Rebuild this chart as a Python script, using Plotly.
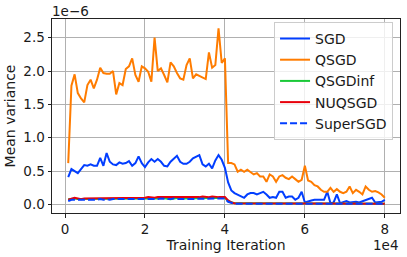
import plotly.graph_objects as go

iterations = [800 * k for k in range(1, 101)]

sgd = [0.41, 0.53, 0.50, 0.47, 0.53, 0.59, 0.58, 0.60, 0.58, 0.58,
       0.70, 0.58, 0.77, 0.64, 0.60, 0.59, 0.63, 0.61, 0.62, 0.65,
       0.58, 0.62, 0.72, 0.62, 0.56, 0.63, 0.68, 0.64, 0.68, 0.64,
       0.58, 0.57, 0.64, 0.69, 0.73, 0.64, 0.61, 0.61, 0.64, 0.69,
       0.72, 0.74, 0.60, 0.57, 0.61, 0.54, 0.66, 0.74, 0.67, 0.55,
       0.33, 0.21, 0.17, 0.15, 0.13, 0.10, 0.15, 0.17, 0.17, 0.15,
       0.17, 0.19, 0.15, 0.10, 0.11, 0.10, 0.19, 0.19, 0.10, 0.12,
       0.12, 0.07, 0.10, 0.19, 0.03, 0.05, 0.06, 0.07, 0.07, 0.08,
       0.07, 0.19, 0.02, 0.03, 0.15, 0.02, 0.03, 0.05, 0.03, 0.04,
       0.04, 0.03, 0.05, 0.06, 0.08, 0.10, 0.03, 0.03, 0.04, 0.07]

qsgd = [0.62, 1.78, 1.95, 1.67, 1.59, 1.53, 1.79, 1.87, 1.74, 1.87,
        2.05, 1.97, 1.96, 1.96, 2.00, 1.65, 1.82, 1.79, 2.03, 2.07,
        2.19, 1.94, 1.84, 2.07, 2.04, 1.99, 1.84, 2.50, 2.00, 2.04,
        1.94, 1.83, 2.13, 2.07, 1.97, 1.89, 1.87, 2.09, 2.19, 1.89,
        1.95, 1.93, 1.90, 1.88, 2.28, 2.05, 2.09, 2.64, 2.12, 2.19,
        0.62, 0.62, 0.60, 0.49, 0.52, 0.49, 0.52, 0.49, 0.45, 0.47,
        0.42, 0.42, 0.34, 0.45, 0.42, 0.34, 0.42, 0.44, 0.40, 0.38,
        0.42, 0.38, 0.34, 0.37, 0.58, 0.36, 0.34, 0.29, 0.27, 0.22,
        0.19, 0.19, 0.25, 0.19, 0.23, 0.19, 0.17, 0.19, 0.27, 0.17,
        0.22, 0.19, 0.15, 0.27, 0.22, 0.19, 0.20, 0.18, 0.15, 0.10]

qsgdinf = [0.08, 0.09, 0.09, 0.08, 0.08, 0.08, 0.09, 0.08, 0.09, 0.08,
           0.09, 0.09, 0.08, 0.09, 0.09, 0.08, 0.09, 0.09, 0.08, 0.09,
           0.09, 0.09, 0.08, 0.09, 0.09, 0.09, 0.09, 0.08, 0.09, 0.10,
           0.09, 0.09, 0.08, 0.09, 0.10, 0.10, 0.09, 0.09, 0.10, 0.10,
           0.10, 0.09, 0.10, 0.10, 0.10, 0.10, 0.10, 0.10, 0.10, 0.10,
           0.05, 0.03, 0.02, 0.02, 0.02, 0.02, 0.02, 0.02, 0.02, 0.02,
           0.02, 0.02, 0.02, 0.02, 0.02, 0.02, 0.02, 0.02, 0.02, 0.02,
           0.02, 0.02, 0.02, 0.02, 0.02, 0.01, 0.01, 0.01, 0.01, 0.01,
           0.01, 0.01, 0.01, 0.01, 0.01, 0.01, 0.01, 0.01, 0.01, 0.01,
           0.01, 0.01, 0.01, 0.01, 0.01, 0.01, 0.01, 0.01, 0.01, 0.01]

nuqsgd = [0.07, 0.09, 0.10, 0.09, 0.08, 0.09, 0.09, 0.09, 0.10, 0.09,
          0.09, 0.09, 0.10, 0.09, 0.10, 0.09, 0.09, 0.10, 0.09, 0.09,
          0.10, 0.09, 0.10, 0.10, 0.10, 0.11, 0.10, 0.10, 0.11, 0.11,
          0.10, 0.10, 0.11, 0.10, 0.10, 0.11, 0.11, 0.11, 0.10, 0.10,
          0.11, 0.11, 0.12, 0.11, 0.11, 0.12, 0.11, 0.11, 0.11, 0.11,
          0.06, 0.03, 0.02, 0.02, 0.02, 0.02, 0.02, 0.02, 0.02, 0.02,
          0.02, 0.02, 0.02, 0.02, 0.02, 0.02, 0.02, 0.02, 0.02, 0.02,
          0.02, 0.02, 0.02, 0.02, 0.02, 0.02, 0.01, 0.01, 0.01, 0.01,
          0.01, 0.01, 0.01, 0.01, 0.01, 0.01, 0.01, 0.01, 0.01, 0.01,
          0.01, 0.01, 0.01, 0.01, 0.01, 0.01, 0.01, 0.01, 0.01, 0.01]

supersgd = [0.05, 0.07, 0.07, 0.07, 0.06, 0.07, 0.07, 0.07, 0.07, 0.07,
            0.08, 0.07, 0.08, 0.07, 0.08, 0.08, 0.07, 0.08, 0.08, 0.07,
            0.08, 0.08, 0.08, 0.08, 0.07, 0.08, 0.08, 0.08, 0.08, 0.09,
            0.08, 0.08, 0.08, 0.09, 0.08, 0.08, 0.09, 0.08, 0.08, 0.09,
            0.09, 0.08, 0.09, 0.09, 0.09, 0.09, 0.09, 0.09, 0.09, 0.09,
            0.04, 0.02, 0.01, 0.01, 0.01, 0.01, 0.01, 0.01, 0.01, 0.01,
            0.01, 0.01, 0.01, 0.01, 0.01, 0.01, 0.01, 0.01, 0.01, 0.01,
            0.01, 0.01, 0.01, 0.01, 0.01, 0.01, 0.01, 0.01, 0.01, 0.01,
            0.01, 0.01, 0.01, 0.01, 0.01, 0.01, 0.01, 0.01, 0.01, 0.01,
            0.01, 0.01, 0.01, 0.01, 0.01, 0.01, 0.01, 0.01, 0.01, 0.01]

series_names = ["SGD", "QSGD", "QSGDinf", "NUQSGD", "SuperSGD"]
series_values = [sgd, qsgd, qsgdinf, nuqsgd, supersgd]
series_colors = ["#023eff", "#ff7c00", "#1ac938", "#e8000b", "#023eff"]
series_dash = ["solid", "solid", "solid", "solid", "7px,3px"]

x_tickvals = [0, 20000, 40000, 60000, 80000]
x_ticktext = ["0", "2", "4", "6", "8"]
y_tickvals = [0.0, 0.5, 1.0, 1.5, 2.0, 2.5]
y_ticktext = ["0.0", "0.5", "1.0", "1.5", "2.0", "2.5"]

FONT = "DejaVu Sans"
TXT = "#1a1a1a"

fig = go.Figure()
for name, vals, col, dash in zip(series_names, series_values, series_colors, series_dash):
    fig.add_trace(go.Scatter(
        x=iterations, y=vals, mode="lines", name=name,
        line=dict(color=col, width=2, dash=dash),
    ))

fig.update_layout(
    width=407, height=257,
    margin=dict(l=52, r=7, t=19, b=44, autoexpand=False),
    plot_bgcolor="white", paper_bgcolor="white",
    font=dict(family=FONT, size=13.5, color=TXT),
    showlegend=True,
    legend=dict(
        x=0.98, y=0.985, xanchor="right", yanchor="top",
        bgcolor="rgba(255,255,255,0.8)", bordercolor="#cccccc", borderwidth=1,
        font=dict(family=FONT, size=14, color=TXT),
        itemwidth=30,
    ),
    xaxis=dict(
        range=[-3260, 83800], tickvals=x_tickvals, ticktext=x_ticktext,
        showgrid=True, gridcolor="#b0b0b0", gridwidth=1,
        showline=True, linecolor="#222222", linewidth=1, mirror=True,
        ticks="outside", ticklen=3.5, tickcolor="#222222",
        zeroline=False, automargin=False,
        title=dict(text="Training Iteration", font=dict(size=14, family=FONT, color=TXT), standoff=2),
    ),
    yaxis=dict(
        range=[-0.128, 2.78], tickvals=y_tickvals, ticktext=y_ticktext,
        showgrid=True, gridcolor="#b0b0b0", gridwidth=1,
        showline=True, linecolor="#222222", linewidth=1, mirror=True,
        ticks="outside", ticklen=3.5, tickcolor="#222222",
        zeroline=False, automargin=False,
        title=dict(text="Mean variance", font=dict(size=14, family=FONT, color=TXT), standoff=4),
    ),
)

fig.add_annotation(x=0, y=1, xref="paper", yref="paper", text="1e\u22126",
                   showarrow=False, xanchor="left", yanchor="bottom",
                   font=dict(size=13.5, family=FONT, color=TXT), xshift=-2, yshift=-2)
fig.add_annotation(x=1, y=0, xref="paper", yref="paper", text="1e4",
                   showarrow=False, xanchor="right", yanchor="top",
                   font=dict(size=13.5, family=FONT, color=TXT), yshift=-22)

fig.write_html("out.html", config={"displayModeBar": False},
               post_script="document.body.style.margin='0';document.body.style.padding='0';")
